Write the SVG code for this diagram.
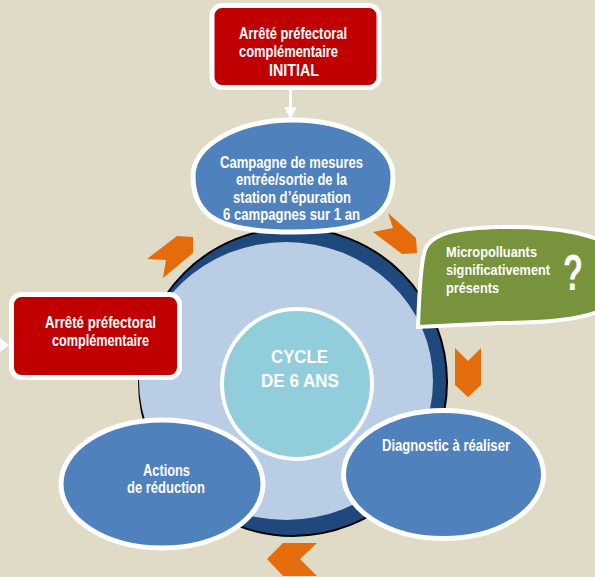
<svg xmlns="http://www.w3.org/2000/svg" width="595" height="577" viewBox="0 0 595 577">
<style>
.t{font-family:"Liberation Sans Narrow","Liberation Sans",Arial,sans-serif;font-weight:bold;fill:#FFFFFF;font-size:16px}
.red{fill:#C00000;stroke:#FFFFFF;stroke-width:5}
.blue{fill:#4F81BD;stroke:#FFFFFF;stroke-width:5}
.chev{fill:#E46C0A}
</style>
<defs>
<marker id="ah" viewBox="0 0 10 10" refX="9" refY="5" markerWidth="4" markerHeight="4" markerUnits="strokeWidth" orient="auto">
<path d="M0,0 L10,5 L0,10 Z" fill="#FFFFFF"/>
</marker>
</defs>
<rect x="0" y="0" width="595" height="577" fill="#DFDBC7"/>
<g id="ring">
<circle cx="293" cy="382" r="154" fill="#1F497D" stroke="#000000" stroke-width="2"/>
<ellipse cx="286" cy="381" rx="147" ry="139" fill="#B9CDE5"/>
</g>
<g id="cycle">
<circle cx="297" cy="384" r="75" fill="#92CDDC" stroke="#FFFFFF" stroke-width="4"/>
<text class="t" x="271" y="363" style="font-size:18.5px" textLength="57" lengthAdjust="spacingAndGlyphs">CYCLE</text>
<text class="t" x="261" y="387" style="font-size:18.5px" textLength="78" lengthAdjust="spacingAndGlyphs">DE 6 ANS</text>
</g>
<g id="arrows">
<polygon class="chev" points="147,259 177,236 193,237 193,253 163,278 166,260"/>
<polygon class="chev" points="388,213 416,238 417,253 402,254 373,232 393,228"/>
<polygon class="chev" points="455,348 468,361 481,348 481,385 468,397 455,385"/>
<polygon class="chev" points="267,559 283,543 317,543 300,559 317,576 283,576"/>
</g>
<g id="campagne">
<path class="blue" d="M193,176 C193,145 238,120 293,120 C348,120 393,145 393,176 C393,218 365,232 293,232 C221,232 193,218 193,176 Z"/>
<text class="t" x="220" y="167.5" textLength="143" lengthAdjust="spacingAndGlyphs">Campagne de mesures</text>
<text class="t" x="236" y="185" textLength="111" lengthAdjust="spacingAndGlyphs">entrée/sortie de la</text>
<text class="t" x="233" y="202.5" textLength="118" lengthAdjust="spacingAndGlyphs">station d’épuration</text>
<text class="t" x="223" y="220" textLength="137" lengthAdjust="spacingAndGlyphs">6 campagnes sur 1 an</text>
</g>
<g id="micropolluants">
<path d="M418,327 C419,300 420,265 425,250 C432,232 460,228 500,227 C560,226 600,235 615,250 C630,268 620,300 595,313 C570,322 530,323 500,323 Z" fill="#77933C" stroke="#FFFFFF" stroke-width="4"/>
<text class="t" x="446" y="257" style="font-size:15.5px" textLength="91" lengthAdjust="spacingAndGlyphs">Micropolluants</text>
<text class="t" x="446" y="275" style="font-size:15.5px" textLength="104" lengthAdjust="spacingAndGlyphs">significativement</text>
<text class="t" x="446" y="293" style="font-size:15.5px" textLength="53" lengthAdjust="spacingAndGlyphs">présents</text>
<text class="t" x="563" y="290" style="font-size:50px" textLength="20" lengthAdjust="spacingAndGlyphs">?</text>
</g>
<g id="diagnostic">
<ellipse class="blue" cx="443.5" cy="474.5" rx="100" ry="64"/>
<text class="t" x="382" y="451" textLength="128" lengthAdjust="spacingAndGlyphs">Diagnostic à réaliser</text>
</g>
<g id="actions">
<ellipse class="blue" cx="162" cy="484" rx="101" ry="64"/>
<text class="t" x="143" y="476" textLength="47" lengthAdjust="spacingAndGlyphs">Actions</text>
<text class="t" x="127" y="493" textLength="78" lengthAdjust="spacingAndGlyphs">de réduction</text>
</g>
<g id="arrete-initial">
<rect class="red" x="212" y="5.5" width="167" height="82" rx="10"/>
<text class="t" x="239" y="39" textLength="108" lengthAdjust="spacingAndGlyphs">Arrêté préfectoral</text>
<text class="t" x="239" y="57" textLength="99" lengthAdjust="spacingAndGlyphs">complémentaire</text>
<text class="t" x="269" y="76" textLength="50" lengthAdjust="spacingAndGlyphs">INITIAL</text>
</g>
<g id="arrete">
<rect class="red" x="11.5" y="294.5" width="168" height="83" rx="10"/>
<text class="t" x="45" y="328" textLength="111" lengthAdjust="spacingAndGlyphs">Arrêté préfectoral</text>
<text class="t" x="52" y="346" textLength="97" lengthAdjust="spacingAndGlyphs">complémentaire</text>
</g>
<g id="connectors">
<line x1="290.5" y1="90" x2="290.5" y2="118" stroke="#FFFFFF" stroke-width="3" marker-end="url(#ah)"/>
<polygon points="0,338 9,345 0,352" fill="#FFFFFF"/>
</g>
</svg>
